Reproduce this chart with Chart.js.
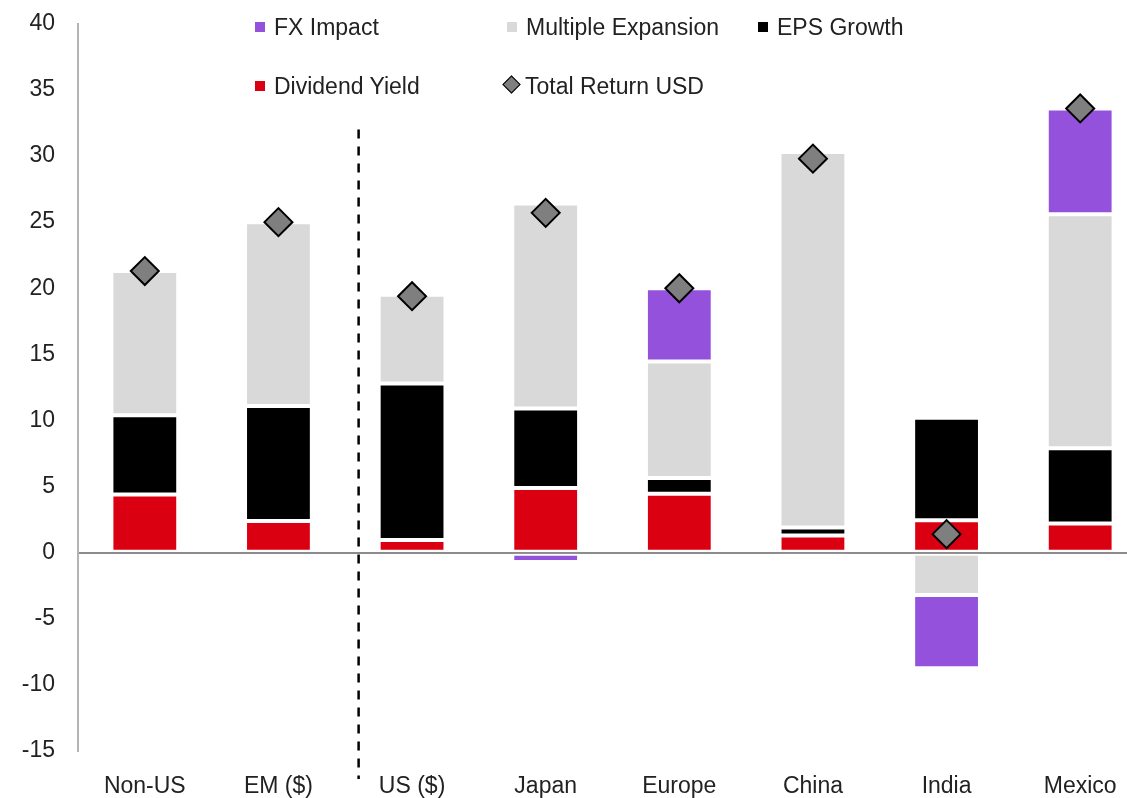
<!DOCTYPE html>
<html>
<head>
<meta charset="utf-8">
<script src="https://cdn.jsdelivr.net/npm/chart.js@4/dist/chart.umd.min.js"></script>
<style>
    html, body { margin: 0; padding: 0; background: #fff; overflow: hidden; }
    #wrap { position: relative; width: 1163px; height: 798px; overflow: hidden; }
    #chart { position: absolute; left: 0; top: -13px; }
    #legend { position: absolute; left: 0; top: 0; font-family: "Liberation Sans", Arial, sans-serif; font-size: 23px; color: #222; }
    .item { position: absolute; white-space: nowrap; line-height: 26px; }
    .sw { display: inline-block; width: 10px; height: 10px; margin-right: 9px; vertical-align: 3px; }
    .dia { display: inline-block; width: 11px; height: 11px; margin: 0 7px 0 3px; vertical-align: 3px; background: #7f7f7f; border: 1.5px solid #000; transform: rotate(45deg); }
</style>
</head>
<body>
<div id="wrap">
    <canvas id="chart" width="1163" height="811"></canvas>
    <div id="legend"></div>
</div>
<script>
// --- Data ---
const categories = ['Non-US', 'EM ($)', 'US ($)', 'Japan', 'Europe', 'China', 'India', 'Mexico'];
const dividendYield = [4.4, 2.4, 0.95, 4.9, 4.45, 1.3, 2.45, 2.2];
const epsGrowth = [6.0, 8.7, 11.85, 6.0, 1.2, 0.6, 7.75, 5.7];
const multipleExpansion = [10.9, 13.9, 6.7, 15.5, 8.8, 28.4, -3.2, 17.7];
const fxImpact = [0, 0, 0, -0.7, 5.55, -0.3, -5.55, 8.0];
const totalReturnUSD = [21.3, 25.0, 19.4, 25.7, 20.0, 29.8, 1.4, 33.6];
const yTicks = [-15, -10, -5, 0, 5, 10, 15, 20, 25, 30, 35, 40];

const colors = {
    fx: '#9452dc',
    multiple: '#d9d9d9',
    eps: '#000000',
    dividend: '#db0011',
    total: '#7f7f7f'
};

// --- Legend (HTML overlay) ---
const legendItems = [
    { label: 'FX Impact', color: colors.fx, x: 255, y: 14 },
    { label: 'Multiple Expansion', color: colors.multiple, x: 507, y: 14 },
    { label: 'EPS Growth', color: colors.eps, x: 758, y: 14 },
    { label: 'Dividend Yield', color: colors.dividend, x: 255, y: 73 },
    { label: 'Total Return USD', diamond: true, x: 502, y: 73 }
];
const legendEl = document.getElementById('legend');
legendItems.forEach(it => {
    const div = document.createElement('div');
    div.className = 'item';
    div.style.left = it.x + 'px';
    div.style.top = it.y + 'px';
    const mark = document.createElement('span');
    if (it.diamond) {
        mark.className = 'dia';
    } else {
        mark.className = 'sw';
        mark.style.background = it.color;
    }
    div.appendChild(mark);
    div.appendChild(document.createTextNode(it.label));
    legendEl.appendChild(div);
});

// --- Dashed divider between EM and US ---
const dividerPlugin = {
    id: 'divider',
    afterDatasetsDraw(chart) {
        const x = chart.scales.x;
        const y = chart.scales.y;
        const px = x.getPixelForValue(1) + 0.6 * (x.getPixelForValue(2) - x.getPixelForValue(1));
        const ctx = chart.ctx;
        ctx.save();
        ctx.strokeStyle = '#000';
        ctx.lineWidth = 2.5;
        ctx.setLineDash([9, 8]);
        ctx.beginPath();
        ctx.moveTo(px, y.getPixelForValue(32));
        ctx.lineTo(px, chart.chartArea.bottom + 28);
        ctx.stroke();
        ctx.restore();
    }
};

const barStyle = { borderColor: '#ffffff', borderWidth: 2, borderSkipped: false, barPercentage: 0.5, categoryPercentage: 1.0, stack: 's', order: 1 };

new Chart(document.getElementById('chart').getContext('2d'), {
    type: 'bar',
    data: {
        labels: categories,
        datasets: [
            { label: 'Dividend Yield', data: dividendYield, backgroundColor: colors.dividend, ...barStyle },
            { label: 'EPS Growth', data: epsGrowth, backgroundColor: colors.eps, ...barStyle },
            { label: 'Multiple Expansion', data: multipleExpansion, backgroundColor: colors.multiple, ...barStyle },
            { label: 'FX Impact', data: fxImpact, backgroundColor: colors.fx, ...barStyle },
            {
                type: 'line', label: 'Total Return USD', data: totalReturnUSD, showLine: false,
                pointStyle: 'rectRot', pointRadius: 14, pointBackgroundColor: colors.total,
                pointBorderColor: '#000', pointBorderWidth: 2, order: 0
            }
        ]
    },
    options: {
        responsive: false,
        animation: false,
        layout: { padding: { top: 9, right: 3, left: 0, bottom: 0 } },
        plugins: { legend: { display: false }, tooltip: { enabled: false } },
        scales: {
            x: {
                stacked: true,
                grid: { display: false },
                border: { display: false },
                ticks: { color: '#222', font: { family: 'Liberation Sans, Arial', size: 23 }, padding: 14, maxRotation: 0 },
                afterFit: s => { s.height = 47; }
            },
            y: {
                stacked: true,
                min: -15, max: 40,
                afterBuildTicks: s => { s.ticks = yTicks.map(v => ({ value: v })); },
                grid: {
                    drawTicks: false,
                    color: c => c.tick && c.tick.value === 0 ? '#8c8c8c' : 'rgba(0,0,0,0)',
                    lineWidth: 2
                },
                border: { display: true, color: '#b3b3b3', width: 2 },
                ticks: { color: '#222', font: { family: 'Liberation Sans, Arial', size: 23 }, padding: 23 },
                afterFit: s => { s.width = 78; }
            }
        }
    },
    plugins: [dividerPlugin]
});
</script>
</body>
</html>
